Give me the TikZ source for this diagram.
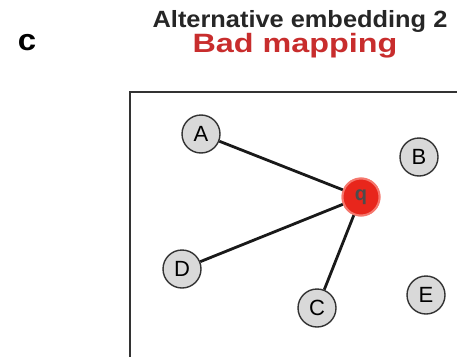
\documentclass[tikz,border=0pt]{standalone}
\usepackage{fontspec}
\setmainfont{Liberation Sans}
\definecolor{qred}{RGB}{232,38,28}
\definecolor{qhalo}{RGB}{245,120,110}
\definecolor{badred}{RGB}{200,45,45}
\begin{document}
\begin{tikzpicture}[x=1pt,y=-1pt,
  vert/.style={circle,draw=black!80,line width=1.4pt,fill=black!15,minimum size=38pt,inner sep=0pt,font=\fontsize{22}{22}\selectfont},
  qnode/.style={circle,fill=qred,draw=qhalo,line width=2pt,minimum size=37pt,inner sep=0pt,font=\fontsize{20}{20}\selectfont\bfseries,text=black!70},
  edge/.style={line width=2.8pt,black!90},
  head/.style={anchor=base,inner sep=0pt}]
\useasboundingbox (0,0) rectangle (457,356);
\node[head,xscale=1.08,font=\fontsize{23.5}{23.5}\selectfont\bfseries,text=black!85] (title) at (300,27) {Alternative embedding 2};
\node[head,xscale=1.22,font=\fontsize{26.5}{26.5}\selectfont\bfseries,text=badred] (sub) at (295,52) {Bad mapping};
\node[head,xscale=1.1,font=\fontsize{30}{30}\selectfont\bfseries] (lbl) at (27,50) {c};
\coordinate (tr) at (458,92);
\coordinate (tl) at (130,92);
\coordinate (bl) at (130,357);
\draw[line width=1.8pt,black!80] (tr) -- (tl) -- (bl);
\node[qnode] (q) at (361,197) {q};
\node[vert] (A) at (201,134) {A};
\node[vert] (B) at (419,157) {B};
\node[vert] (D) at (182,269) {D};
\node[vert] (C) at (317,308) {C};
\node[vert] (E) at (426,295) {E};
\draw[edge] (A) -- (q);
\draw[edge] (D) -- (q);
\draw[edge] (C) -- (q);
\node[qnode] at (q) {q};
\end{tikzpicture}
\end{document}
